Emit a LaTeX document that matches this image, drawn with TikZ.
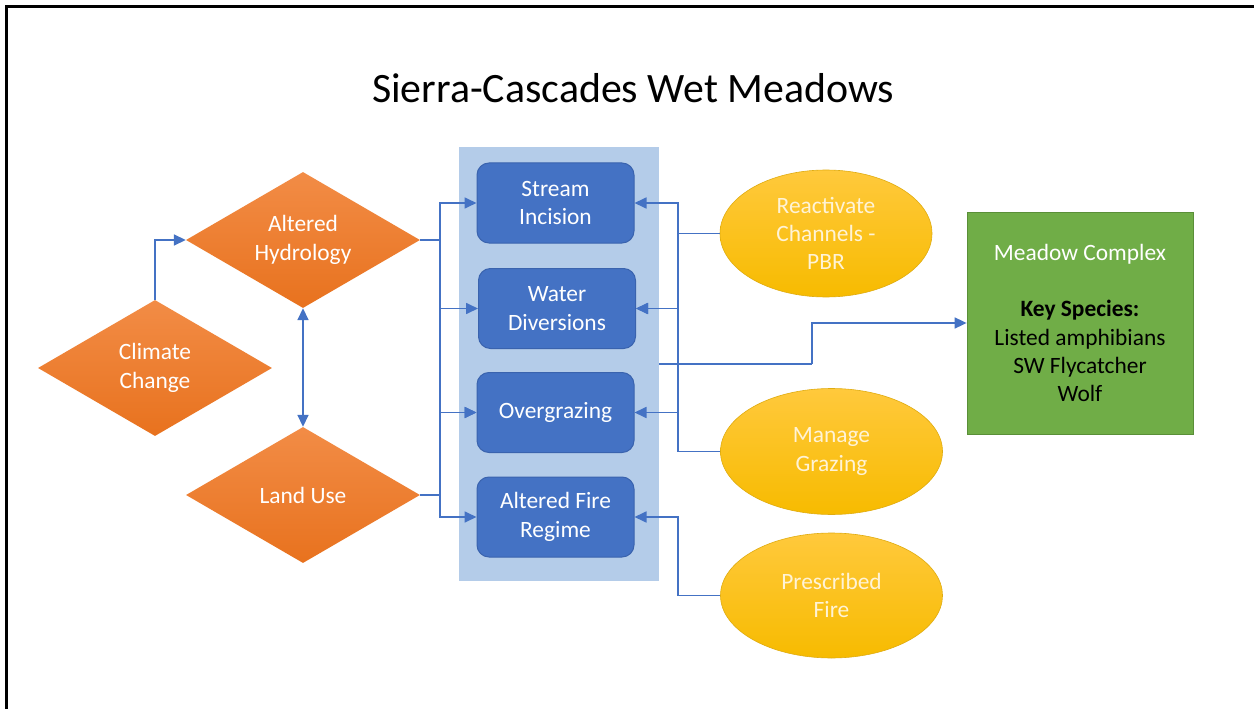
\documentclass[tikz,border=0pt]{standalone}
\usepackage{fontspec}
\setmainfont{Carlito}
\usetikzlibrary{shapes.geometric,arrows.meta,calc}
\definecolor{lineblue}{HTML}{4472C4}
\definecolor{boxblue}{HTML}{4472C4}
\definecolor{boxedge}{HTML}{3A63AE}
\definecolor{panelblue}{HTML}{B4CCE9}
\definecolor{orangeT}{HTML}{F28C46}
\definecolor{orangeB}{HTML}{E8721E}
\definecolor{goldT}{HTML}{FFC93C}
\definecolor{goldB}{HTML}{F7BB00}
\definecolor{goldedge}{HTML}{E0AC10}
\definecolor{greenfill}{HTML}{70AD47}
\definecolor{greenedge}{HTML}{5A8F38}
\definecolor{creamtext}{HTML}{FFF3D6}
\tikzset{
  x=1bp, y=-1bp,
  txt/.style={font=\fontsize{23.5}{28.5}\selectfont, align=center},
  causebox/.style={diamond, aspect=1.72, minimum width=234bp, minimum height=136bp, inner sep=0pt,
    top color=orangeT, bottom color=orangeB, draw=none, text=white, txt},
  stressbox/.style={rectangle, rounded corners=12bp, minimum width=157bp, minimum height=80bp, inner sep=0pt,
    fill=boxblue, draw=boxedge, line width=1bp, text=white, txt},
  actbox/.style={ellipse, minimum width=222bp, minimum height=126bp, inner sep=0pt,
    top color=goldT, bottom color=goldB, draw=goldedge, line width=0.6bp, text=creamtext, txt},
  tipA/.style={Triangle[length=12bp,width=11bp]},
  conn/.style={draw=lineblue, line width=1.7bp, -{Triangle[length=12bp,width=11bp]}},
  plain/.style={draw=lineblue, line width=1.7bp},
}
\begin{document}
\begin{tikzpicture}
\useasboundingbox (0,0) rectangle (1254,709);
\fill[white] (0,0) rectangle (1254,709);
% border (top and left)
\draw[line width=3bp] (6.5,709) -- (6.5,6.5) -- (1254,6.5);
% title
\node[font=\fontsize{42}{50}\selectfont] (title) at (633,88) {Sierra-Cascades Wet Meadows};
% panel
\node[rectangle, fill=panelblue, minimum width=200bp, minimum height=434bp, inner sep=0pt] (panel) at (559,364) {};
% causes
\node[causebox] (climate) at (155,368) {Climate\\Change};
\node[causebox] (hydro) at (303,240) {Altered\\Hydrology};
\node[causebox] (land) at (303,495) {Land Use};
% stressors
\node[stressbox] (stream) at (555.5,203) {Stream\\Incision};
\node[stressbox] (water) at (557,308.5) {Water\\Diversions};
\node[stressbox] (over) at (555.5,412.5) {Overgrazing};
\node[stressbox] (fire) at (555.5,517) {Altered Fire\\Regime};
% actions
\node[actbox, minimum width=212bp, minimum height=127bp] (reac) at (826,233.5) {Reactivate\\Channels -\\PBR};
\node[actbox] (graze) at (831.5,451.5) {Manage\\Grazing};
\node[actbox, minimum height=125bp] (pfire) at (831.5,595.5) {Prescribed\\Fire};
% outcome
\node[rectangle, fill=greenfill, draw=greenedge, line width=0.8bp, minimum width=226bp, minimum height=222bp, inner sep=0pt, txt] (meadow) at (1080,323)
  {\textcolor{white}{Meadow Complex}\\[28bp]\textbf{Key Species:}\\Listed amphibians\\SW Flycatcher\\Wolf};
% junction coordinates
\coordinate (jl1) at (440,240);
\coordinate (jl2) at (440,495);
\coordinate (jr1) at (678,233.5);
\coordinate (jr2) at (678,451.5);
\coordinate (jr3) at (678,595.5);
\coordinate (jo) at (812,364);
% left connectors
\draw[conn] (climate.north) |- (hydro.west);
\draw[draw=lineblue, line width=1.7bp, {Triangle[length=12bp,width=11bp]}-{Triangle[length=12bp,width=11bp]}] (hydro.south) -- (land.north);
\draw[plain] (hydro.east) -- (jl1);
\draw[conn] (jl1) |- (stream.west);
\draw[conn] (jl1) |- (water.west);
\draw[conn] (jl1) |- (over.west);
\draw[plain] (land.east) -- (jl2);
\draw[conn] (jl2) |- (over.west);
\draw[conn] (jl2) |- (fire.west);
% right connectors
\draw[plain] (reac.west) -- (jr1);
\draw[conn] (jr1) |- (stream.east);
\draw[conn] (jr1) |- (water.east);
\draw[plain] (graze.west) -- (jr2);
\draw[conn] (jr2) |- (over.east);
\draw[conn] (jr2) |- (water.east);
\draw[plain] (pfire.west) -- (jr3);
\draw[conn] (jr3) |- (fire.east);
% output
\draw[plain] (panel.east) -- (jo);
\draw[conn] (jo) |- (meadow.west);
\end{tikzpicture}
\end{document}
